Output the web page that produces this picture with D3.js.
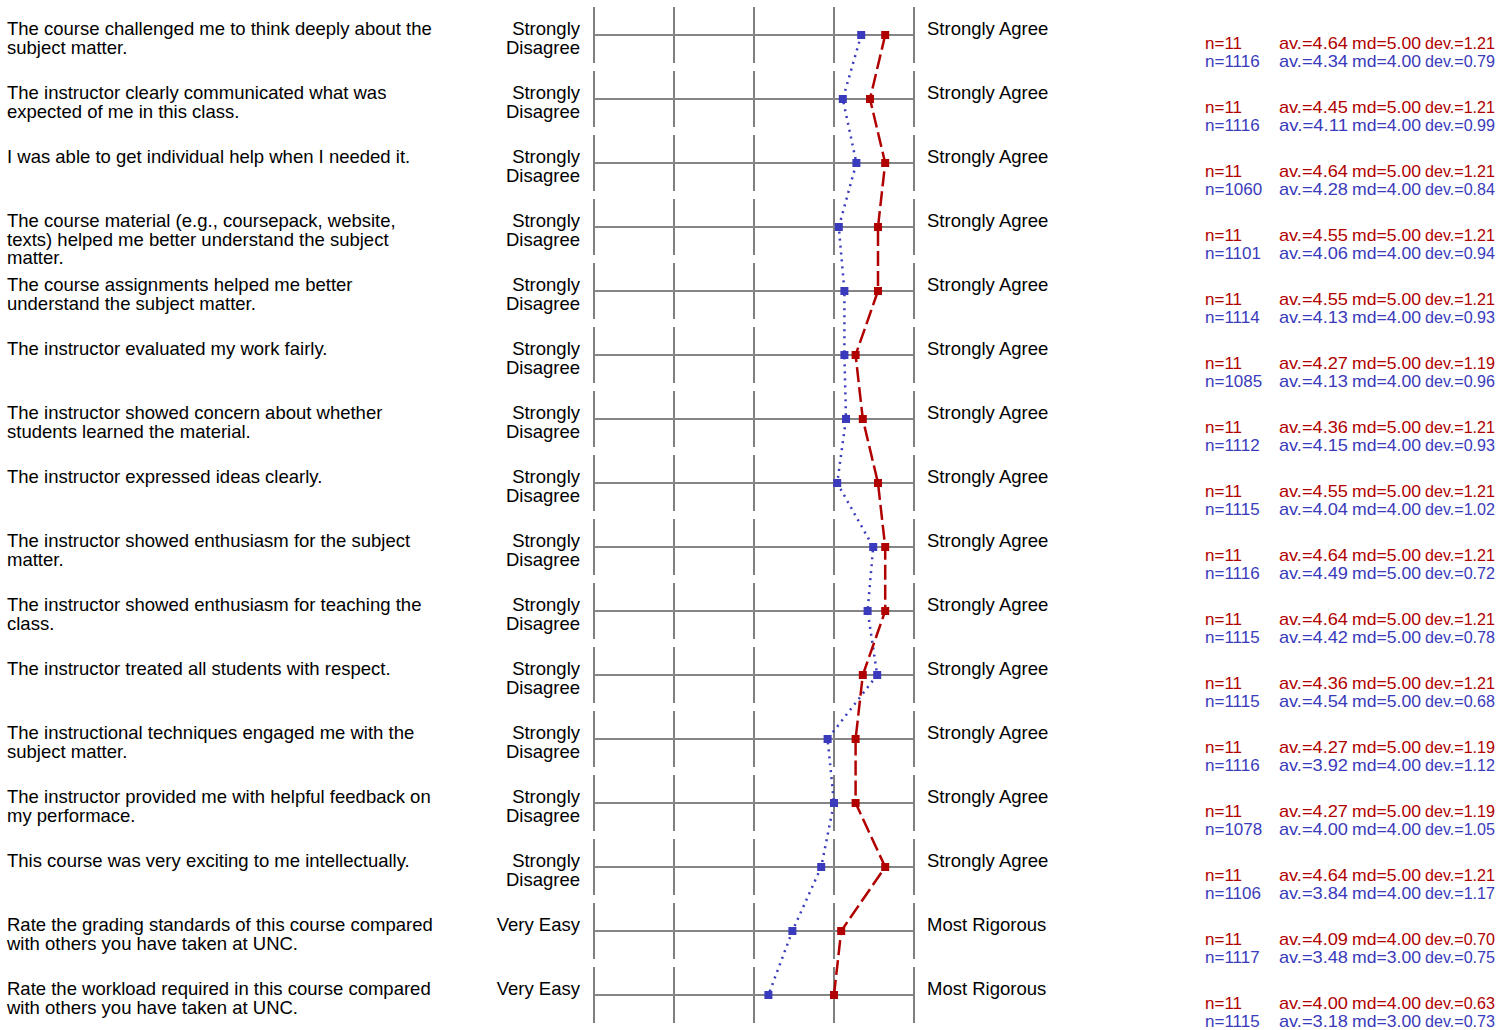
<!DOCTYPE html>
<html>
<head>
<meta charset="utf-8">
<script src="https://cdn.jsdelivr.net/npm/d3@7"></script>
<style>
  body { margin: 0; background: #fff; }
  svg { display: block; font-family: "Liberation Sans", Arial, sans-serif; }
</style>
</head>
<body>
<div id="chart"></div>
<script>
// questions, one per row (lines split where the original wraps)
const questions = [
  ['The course challenged me to think deeply about the', 'subject matter.'],
  ['The instructor clearly communicated what was', 'expected of me in this class.'],
  ['I was able to get individual help when I needed it.'],
  ['The course material (e.g., coursepack, website,', 'texts) helped me better understand the subject', 'matter.'],
  ['The course assignments helped me better', 'understand the subject matter.'],
  ['The instructor evaluated my work fairly.'],
  ['The instructor showed concern about whether', 'students learned the material.'],
  ['The instructor expressed ideas clearly.'],
  ['The instructor showed enthusiasm for the subject', 'matter.'],
  ['The instructor showed enthusiasm for teaching the', 'class.'],
  ['The instructor treated all students with respect.'],
  ['The instructional techniques engaged me with the', 'subject matter.'],
  ['The instructor provided me with helpful feedback on', 'my performace.'],
  ['This course was very exciting to me intellectually.'],
  ['Rate the grading standards of this course compared', 'with others you have taken at UNC.'],
  ['Rate the workload required in this course compared', 'with others you have taken at UNC.']
];

const leftPoles = [
  ['Strongly', 'Disagree'], ['Strongly', 'Disagree'], ['Strongly', 'Disagree'], ['Strongly', 'Disagree'],
  ['Strongly', 'Disagree'], ['Strongly', 'Disagree'], ['Strongly', 'Disagree'], ['Strongly', 'Disagree'],
  ['Strongly', 'Disagree'], ['Strongly', 'Disagree'], ['Strongly', 'Disagree'], ['Strongly', 'Disagree'],
  ['Strongly', 'Disagree'], ['Strongly', 'Disagree'], ['Very Easy'], ['Very Easy']
];
const rightPoles = [
  'Strongly Agree', 'Strongly Agree', 'Strongly Agree', 'Strongly Agree',
  'Strongly Agree', 'Strongly Agree', 'Strongly Agree', 'Strongly Agree',
  'Strongly Agree', 'Strongly Agree', 'Strongly Agree', 'Strongly Agree',
  'Strongly Agree', 'Strongly Agree', 'Most Rigorous', 'Most Rigorous'
];

// course (red) series
const courseN   = [11, 11, 11, 11, 11, 11, 11, 11, 11, 11, 11, 11, 11, 11, 11, 11];
const courseAv  = [4.64, 4.45, 4.64, 4.55, 4.55, 4.27, 4.36, 4.55, 4.64, 4.64, 4.36, 4.27, 4.27, 4.64, 4.09, 4.00];
const courseMd  = [5, 5, 5, 5, 5, 5, 5, 5, 5, 5, 5, 5, 5, 5, 4, 4];
const courseDev = [1.21, 1.21, 1.21, 1.21, 1.21, 1.19, 1.21, 1.21, 1.21, 1.21, 1.21, 1.19, 1.19, 1.21, 0.70, 0.63];

// comparison (blue) series
const compN   = [1116, 1116, 1060, 1101, 1114, 1085, 1112, 1115, 1116, 1115, 1115, 1116, 1078, 1106, 1117, 1115];
const compAv  = [4.34, 4.11, 4.28, 4.06, 4.13, 4.13, 4.15, 4.04, 4.49, 4.42, 4.54, 3.92, 4.00, 3.84, 3.48, 3.18];
const compMd  = [4, 4, 4, 4, 4, 4, 4, 4, 5, 5, 5, 4, 4, 4, 3, 3];
const compDev = [0.79, 0.99, 0.84, 0.94, 0.93, 0.96, 0.93, 1.02, 0.72, 0.78, 0.68, 1.12, 1.05, 1.17, 0.75, 0.73];

const scalePoints = [1, 2, 3, 4, 5];

const width = 1511, height = 1030;
const red = '#b00000', blue = '#3a3abc';
const rowH = 64, firstRow = 35;

const svg = d3.select('#chart').append('svg')
  .attr('width', width)
  .attr('height', height);

const x = d3.scaleLinear().domain([1, 5]).range([594, 914]);
const y = d3.scaleLinear().domain([0, questions.length - 1])
  .range([firstRow, firstRow + rowH * (questions.length - 1)]);

const rows = svg.selectAll('g.row')
  .data(d3.range(questions.length))
  .enter()
  .append('g')
  .attr('class', 'row')
  .attr('transform', i => `translate(0,${y(i)})`);

// question text
rows.append('text')
  .attr('fill', '#000')
  .style('font-size', '18.5px')
  .selectAll('tspan')
  .data(i => questions[i])
  .enter()
  .append('tspan')
  .attr('x', 7)
  .attr('y', (d, j) => j * 18.5)
  .text(d => d);

// left pole labels
rows.append('text')
  .attr('text-anchor', 'end')
  .style('font-size', '18.5px')
  .selectAll('tspan')
  .data(i => leftPoles[i])
  .enter()
  .append('tspan')
  .attr('x', 580)
  .attr('y', (d, j) => j * 18.5)
  .text(d => d);

rows.append('text')
  .attr('x', 927)
  .attr('y', 0)
  .style('font-size', '18.5px')
  .text(i => rightPoles[i]);

// scale grid
rows.selectAll('line.tick')
  .data(scalePoints)
  .enter()
  .append('line')
  .attr('class', 'tick')
  .attr('x1', d => x(d)).attr('x2', d => x(d))
  .attr('y1', -28).attr('y2', 28)
  .attr('stroke', '#555')
  .attr('stroke-width', 1.5);

rows.append('line')
  .attr('x1', x(1)).attr('x2', x(5))
  .attr('y1', 0).attr('y2', 0)
  .attr('stroke', '#858585')
  .attr('stroke-width', 2);

// profile lines
const line = d3.line()
  .x(d => x(d))
  .y((d, i) => y(i));

svg.append('path')
  .datum(compAv)
  .attr('d', line)
  .attr('fill', 'none')
  .attr('stroke', blue)
  .attr('stroke-width', 2.5)
  .attr('stroke-dasharray', '2,5');

svg.append('path')
  .datum(courseAv)
  .attr('d', line)
  .attr('fill', 'none')
  .attr('stroke', red)
  .attr('stroke-width', 2.5)
  .attr('stroke-dasharray', '15,5');

const ms = 8;
svg.selectAll('rect.comp')
  .data(compAv)
  .enter()
  .append('rect')
  .attr('class', 'comp')
  .attr('x', d => x(d) - ms / 2)
  .attr('y', (d, i) => y(i) - ms / 2)
  .attr('width', ms).attr('height', ms)
  .attr('fill', blue);

svg.selectAll('rect.course')
  .data(courseAv)
  .enter()
  .append('rect')
  .attr('class', 'course')
  .attr('x', d => x(d) - ms / 2)
  .attr('y', (d, i) => y(i) - ms / 2)
  .attr('width', ms).attr('height', ms)
  .attr('fill', red);

// stats columns (the original packs them tightly, so fix each chunk's width)
const fmt = d3.format('.2f');
function statBlock(sel, dy, color, n, av, md, dev) {
  const g = sel.append('g')
    .attr('fill', color)
    .style('font-size', '17px');
  g.append('text').attr('x', 1205).attr('y', dy).text(i => 'n=' + n[i]);
  g.append('text').attr('x', 1279).attr('y', dy)
    .attr('textLength', 69).attr('lengthAdjust', 'spacingAndGlyphs')
    .text(i => 'av.=' + fmt(av[i]));
  g.append('text').attr('x', 1352).attr('y', dy)
    .attr('textLength', 69).attr('lengthAdjust', 'spacingAndGlyphs')
    .text(i => 'md=' + fmt(md[i]));
  g.append('text').attr('x', 1425).attr('y', dy)
    .attr('textLength', 70).attr('lengthAdjust', 'spacingAndGlyphs')
    .text(i => 'dev.=' + fmt(dev[i]));
}
statBlock(rows, 14, red, courseN, courseAv, courseMd, courseDev);
statBlock(rows, 32, blue, compN, compAv, compMd, compDev);
</script>
</body>
</html>
